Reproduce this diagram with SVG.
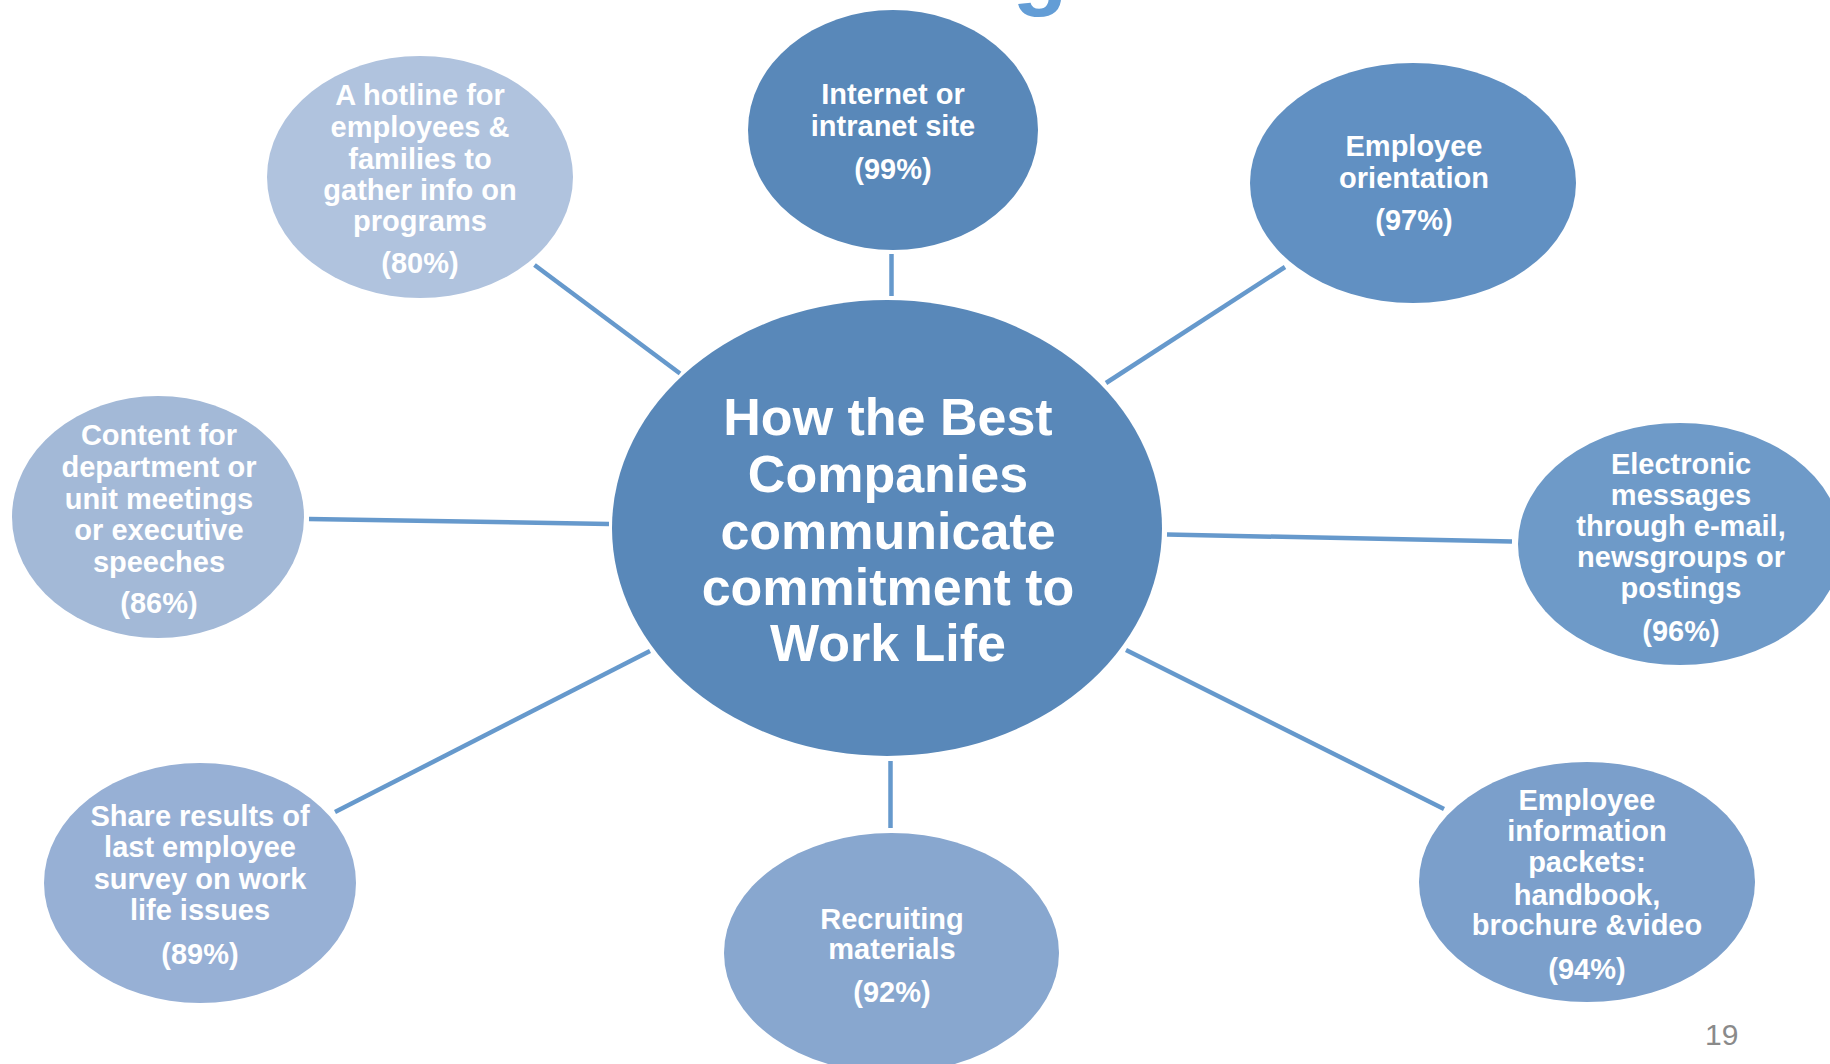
<svg xmlns="http://www.w3.org/2000/svg" width="1830" height="1064" viewBox="0 0 1830 1064">
<style>
.t{font-family:"Liberation Sans",Arial,Helvetica,sans-serif;font-weight:bold;fill:#ffffff;text-anchor:middle}
.s{font-size:29px}
.c{font-size:52px}
.ln{stroke:#6699cc;stroke-width:4.5;fill:none}
</style>
<rect width="1830" height="1064" fill="#ffffff"/>
<text x="1040" y="-2" font-family="Liberation Sans,Arial,sans-serif" font-weight="bold" font-size="90" fill="#639dd6" text-anchor="middle">g</text>
<g id="connectors">
<line class="ln" x1="891.5" y1="254" x2="891.5" y2="296"/>
<line class="ln" x1="534.5" y1="265" x2="680" y2="373.5"/>
<line class="ln" x1="309" y1="519" x2="609" y2="524"/>
<line class="ln" x1="335" y1="812" x2="650" y2="651"/>
<line class="ln" x1="890.5" y1="761" x2="890.5" y2="828"/>
<line class="ln" x1="1285" y1="267" x2="1106" y2="383"/>
<line class="ln" x1="1167" y1="534.5" x2="1512" y2="541.5"/>
<line class="ln" x1="1126" y1="650" x2="1444" y2="809"/>
</g>
<g id="center">
<ellipse cx="887" cy="528" rx="275" ry="228" fill="#5988b9"/>
<text class="t c" x="888" y="435">How the Best</text>
<text class="t c" x="888" y="492">Companies</text>
<text class="t c" x="888" y="549">communicate</text>
<text class="t c" x="888" y="605">commitment to</text>
<text class="t c" x="888" y="661">Work Life</text>
</g>
<g id="internet">
<ellipse cx="893" cy="130" rx="145" ry="120" fill="#5988b9"/>
<text class="t s" x="893" y="104">Internet or</text>
<text class="t s" x="893" y="136">intranet site</text>
<text class="t s" x="893" y="179">(99%)</text>
</g>
<g id="hotline">
<ellipse cx="420" cy="177" rx="153" ry="121" fill="#b0c3de"/>
<text class="t s" x="420" y="105">A hotline for</text>
<text class="t s" x="420" y="137">employees &amp;</text>
<text class="t s" x="420" y="169">families to</text>
<text class="t s" x="420" y="200">gather info on</text>
<text class="t s" x="420" y="231">programs</text>
<text class="t s" x="420" y="273">(80%)</text>
</g>
<g id="orientation">
<ellipse cx="1413" cy="183" rx="163" ry="120" fill="#6190c2"/>
<text class="t s" x="1414" y="156">Employee</text>
<text class="t s" x="1414" y="188">orientation</text>
<text class="t s" x="1414" y="230">(97%)</text>
</g>
<g id="content">
<ellipse cx="158" cy="517" rx="146" ry="121" fill="#a3b9d7"/>
<text class="t s" x="159" y="445">Content for</text>
<text class="t s" x="159" y="477">department or</text>
<text class="t s" x="159" y="509">unit meetings</text>
<text class="t s" x="159" y="540">or executive</text>
<text class="t s" x="159" y="572">speeches</text>
<text class="t s" x="159" y="613">(86%)</text>
</g>
<g id="electronic">
<ellipse cx="1680" cy="544" rx="162" ry="121" fill="#6e9ac8"/>
<text class="t s" x="1681" y="474">Electronic</text>
<text class="t s" x="1681" y="505">messages</text>
<text class="t s" x="1681" y="536">through e-mail,</text>
<text class="t s" x="1681" y="567">newsgroups or</text>
<text class="t s" x="1681" y="598">postings</text>
<text class="t s" x="1681" y="641">(96%)</text>
</g>
<g id="share">
<ellipse cx="200" cy="883" rx="156" ry="120" fill="#97b0d5"/>
<text class="t s" x="200" y="826">Share results of</text>
<text class="t s" x="200" y="857">last employee</text>
<text class="t s" x="200" y="889">survey on work</text>
<text class="t s" x="200" y="920">life issues</text>
<text class="t s" x="200" y="964">(89%)</text>
</g>
<g id="recruiting">
<ellipse cx="891.5" cy="953" rx="167.5" ry="120" fill="#88a7cf"/>
<text class="t s" x="892" y="929">Recruiting</text>
<text class="t s" x="892" y="959">materials</text>
<text class="t s" x="892" y="1002">(92%)</text>
</g>
<g id="packets">
<ellipse cx="1587" cy="882" rx="168" ry="120" fill="#7b9fcb"/>
<text class="t s" x="1587" y="810">Employee</text>
<text class="t s" x="1587" y="841">information</text>
<text class="t s" x="1587" y="872">packets:</text>
<text class="t s" x="1587" y="905">handbook,</text>
<text class="t s" x="1587" y="935">brochure &amp;video</text>
<text class="t s" x="1587" y="979">(94%)</text>
</g>
<text x="1705" y="1045" font-family="Liberation Sans,Arial,sans-serif" font-size="30" fill="#8a8a8a">19</text>
</svg>
